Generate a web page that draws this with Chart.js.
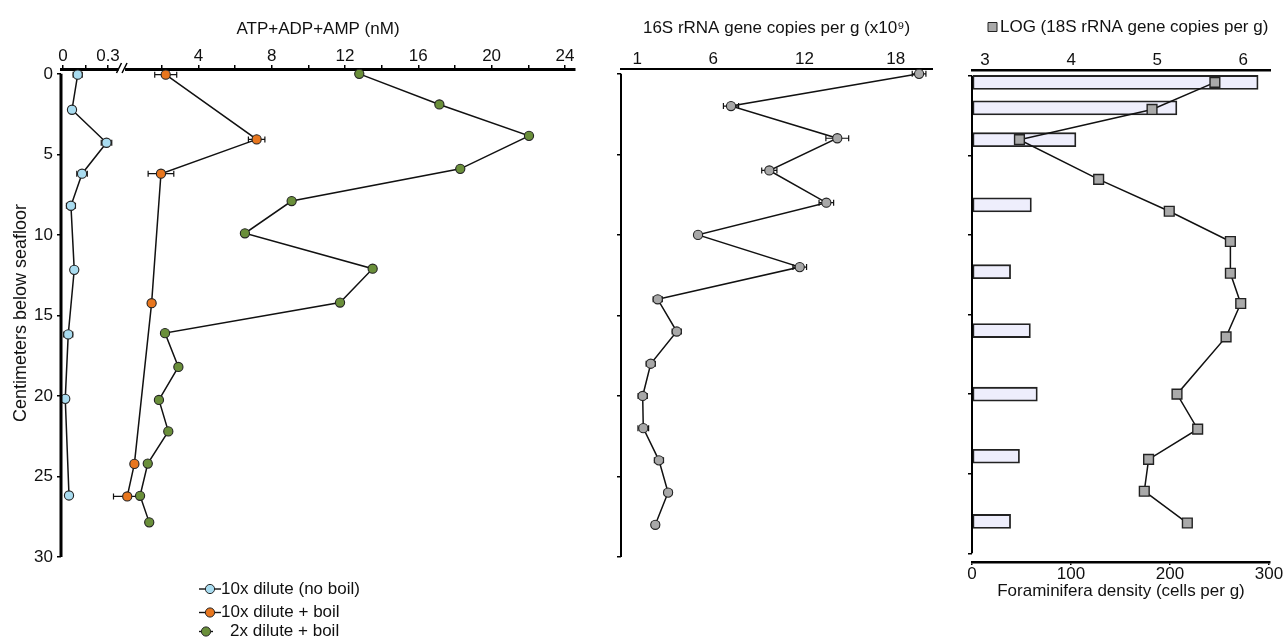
<!DOCTYPE html>
<html>
<head>
<meta charset="utf-8">
<script src="https://cdn.jsdelivr.net/npm/chart.js@4.4.1/dist/chart.umd.min.js"></script>
<style>
  html, body { margin: 0; padding: 0; background: #fff; }
  #wrap { position: relative; width: 1287px; height: 642px; }
  canvas { position: absolute; top: 0; }
</style>
</head>
<body>
<div id="wrap">
  <canvas id="atp" width="600" height="642" style="left:0px"></canvas>
  <canvas id="rrna16" width="350" height="642" style="left:600px"></canvas>
  <canvas id="rrna18" width="337" height="642" style="left:950px"></canvas>
</div>
<script>
// ---- values (depth in cm below seafloor) ----

// ATP+ADP+AMP (nM)
const noBoilDepth = [0.05, 2.23, 4.28, 6.2, 8.19, 12.17, 16.18, 20.18, 26.18];
const noBoilATP   = [0.098, 0.06, 0.29, 0.127, 0.053, 0.075, 0.035, 0.015, 0.04];
const noBoilErr   = [0.03, 0.02, 0.035, 0.035, 0.03, 0.02, 0.03, 0.01, 0.01];

const boil10Depth = [0.05, 4.07, 6.2, 14.24, 24.22, 26.24];
const boil10ATP   = [2.22, 7.18, 1.96, 1.45, 0.51, 0.12];
const boil10Err   = [0.6, 0.45, 0.7, 0.15, 0.1, 0.75];

const boil2Depth  = [0, 1.9, 3.85, 5.9, 7.9, 9.9, 12.1, 14.2, 16.1, 18.2, 20.25, 22.2, 24.2, 26.2, 27.85];
const boil2ATP    = [12.78, 17.15, 22.04, 18.29, 9.09, 6.54, 13.51, 11.73, 2.18, 2.91, 1.85, 2.36, 1.24, 0.82, 1.32];

const atpTicks     = [2, 4, 6, 8, 10, 12, 14, 16, 18, 20, 22, 24];
const atpLabels    = ['', '4', '', '8', '', '12', '', '16', '', '20', '', '24'];
const noBoilTicks  = [0, 0.15, 0.3];
const noBoilLabels = ['0', '', '0.3'];

// 16S rRNA gene copies per g (x10^9)
const rrna16Depth  = [0, 2, 4, 6, 8, 10, 12, 14, 16, 18, 20, 22, 24, 26, 28];
const rrna16Copies = [19.54, 7.17, 14.16, 9.69, 13.44, 5.0, 11.69, 2.35, 3.6, 1.89, 1.36, 1.4, 2.43, 3.03, 2.19];
const rrna16Err    = [0.45, 0.5, 0.75, 0.5, 0.48, 0.2, 0.45, 0.3, 0.3, 0.3, 0.3, 0.35, 0.3, 0.25, 0.25];
const rrna16Ticks  = [1, 6, 12, 18];

// LOG 18S rRNA gene copies per g, and foraminifera density (cells per g)
const log18Depth   = [0.4, 2.1, 4.0, 6.5, 8.5, 10.4, 12.4, 14.3, 16.4, 20.0, 22.2, 24.1, 26.1, 28.1];
const log18Copies  = [5.67, 4.94, 3.40, 4.32, 5.14, 5.85, 5.85, 5.97, 5.80, 5.23, 5.47, 4.90, 4.85, 5.35];
const foramDepth   = [0.4, 2.0, 4.0, 8.1, 12.3, 16.0, 20.0, 23.9, 28.0];
const foramDensity = [289, 207, 105, 60, 39, 59, 66, 48, 39];
const logTicks     = [3, 4, 5, 6];
const densityTicks = [0, 100, 200, 300];

const depthTicks = [0, 5, 10, 15, 20, 25, 30];

// ---- helpers ----
const FONT = "'Liberation Sans', Arial, Helvetica, sans-serif";
Chart.defaults.font.family = FONT;
Chart.defaults.font.size = 17;
Chart.defaults.color = '#111';
Chart.defaults.animation = false;

const pts = (xs, ys) => xs.map((x, i) => ({ x: x, y: ys[i] }));
const setTicks = (vals) => (scale) => { scale.ticks = vals.map(v => ({ value: v })); };

// broken ATP axis: two linear scales sharing one chart area
const ATP_MIN = -3.494, ATP_MAX = 24.55;
const NB_MIN = -0.0133, NB_MAX = 3.413;
const nbToAtp = (v) => ATP_MIN + (v - NB_MIN) / (NB_MAX - NB_MIN) * (ATP_MAX - ATP_MIN);

function depthAxis(min, max, width, labels, title) {
  return {
    type: 'linear', reverse: true, min: min, max: max, offset: false,
    afterBuildTicks: setTicks(depthTicks),
    afterFit: (s) => { s.width = width; },
    border: { display: false },
    grid: { offset: false, drawOnChartArea: false, drawTicks: true, tickLength: 4, color: '#000', lineWidth: 1.5 },
    ticks: { display: labels, padding: 4, font: { size: 17, lineHeight: 1 } },
    title: title ? { display: true, text: title, padding: { top: 10, bottom: 0 }, font: { size: 18 } } : { display: false }
  };
}

// error bars under the points
const errorBars = {
  id: 'errorBars',
  beforeDatasetsDraw(chart) {
    const ctx = chart.ctx;
    chart.data.datasets.forEach((ds, i) => {
      if (!ds.errors) return;
      const meta = chart.getDatasetMeta(i);
      const xs = meta.xScale, ys = meta.yScale;
      ctx.save();
      ctx.strokeStyle = '#111';
      ctx.lineWidth = 1.2;
      ds.data.forEach((p, j) => {
        const e = ds.errors[j];
        if (!e) return;
        const y = ys.getPixelForValue(p.y);
        const x1 = xs.getPixelForValue(p.x - e), x2 = xs.getPixelForValue(p.x + e);
        ctx.beginPath();
        ctx.moveTo(x1, y); ctx.lineTo(x2, y);
        ctx.moveTo(x1, y - 3); ctx.lineTo(x1, y + 3);
        ctx.moveTo(x2, y - 3); ctx.lineTo(x2, y + 3);
        ctx.stroke();
      });
      ctx.restore();
    });
  }
};

// depth axis line only from 0 to 30 cm
const depthLine = {
  id: 'depthLine',
  afterDraw(chart, args, opts) {
    const y = chart.scales.y, ctx = chart.ctx;
    const x = chart.chartArea.left;
    ctx.save();
    ctx.strokeStyle = '#000';
    ctx.lineWidth = opts.width || 2;
    ctx.beginPath();
    ctx.moveTo(x, y.getPixelForValue(0));
    ctx.lineTo(x, y.getPixelForValue(30));
    ctx.stroke();
    ctx.restore();
  }
};

// the // break on the ATP axis
const axisBreak = {
  id: 'axisBreak',
  afterDraw(chart) {
    const ctx = chart.ctx;
    const top = chart.chartArea.top;
    const a = chart.scales.xb.getPixelForValue(0.37);
    const b = chart.scales.x.getPixelForValue(0);
    ctx.save();
    ctx.fillStyle = '#fff';
    ctx.fillRect(a, top - 3, b - a, 6);
    ctx.strokeStyle = '#000';
    ctx.lineWidth = 1.5;
    ctx.beginPath();
    ctx.moveTo(a - 2, top + 4); ctx.lineTo(a + 3, top - 6);
    ctx.moveTo(b - 3, top + 4); ctx.lineTo(b + 2, top - 6);
    ctx.stroke();
    ctx.restore();
  }
};

// small hand-placed keys
const key = {
  id: 'key',
  afterDraw(chart, args, opts) {
    const ctx = chart.ctx;
    ctx.save();
    ctx.font = '17px ' + FONT;
    ctx.textBaseline = 'middle';
    (opts.items || []).forEach((it) => {
      const ds = chart.data.datasets[it.dataset];
      if (it.line) {
        ctx.strokeStyle = '#111';
        ctx.lineWidth = 1.4;
        ctx.beginPath();
        ctx.moveTo(it.x - it.line, it.y); ctx.lineTo(it.x + it.line, it.y);
        ctx.stroke();
      }
      ctx.beginPath();
      if (ds.pointStyle === 'rect') ctx.rect(it.x - 4.5, it.y - 4.5, 9, 9);
      else ctx.arc(it.x, it.y, 4.6, 0, Math.PI * 2);
      ctx.fillStyle = ds.pointBackgroundColor;
      ctx.fill();
      ctx.strokeStyle = '#222';
      ctx.lineWidth = 1;
      ctx.stroke();
      ctx.fillStyle = '#111';
      ctx.fillText(ds.label, it.textX, it.y);
    });
    ctx.restore();
  }
};

function profile(label, data, xAxisID, fill, errors) {
  return {
    type: 'line', label: label, data: data, xAxisID: xAxisID, yAxisID: 'y',
    errors: errors, clip: false,
    borderColor: '#111', borderWidth: 1.5, tension: 0,
    pointRadius: 4.6, pointHoverRadius: 4.6,
    pointBackgroundColor: fill, pointBorderColor: '#222', pointBorderWidth: 1.1
  };
}

// ---- ATP+ADP+AMP ----
const atpAxisTicks = noBoilTicks.map(nbToAtp).concat(atpTicks);
const atpAxisLabels = noBoilLabels.concat(atpLabels);

new Chart(document.getElementById('atp'), {
  type: 'line',
  data: {
    datasets: [
      profile('10x dilute (no boil)', pts(noBoilATP, noBoilDepth), 'xb', '#a9dcf0', noBoilErr),
      profile('2x dilute + boil', pts(boil2ATP, boil2Depth), 'x', '#6a8f3a', null),
      profile('10x dilute + boil', pts(boil10ATP, boil10Depth), 'x', '#e8761e', boil10Err)
    ]
  },
  options: {
    responsive: false, devicePixelRatio: 1, indexAxis: 'y',
    layout: { padding: { left: 0, right: 25, top: 0, bottom: 85 } },
    scales: {
      x: {
        type: 'linear', position: 'top', min: ATP_MIN, max: ATP_MAX,
        afterBuildTicks: setTicks(atpAxisTicks),
        afterFit: (s) => { s.height = 69; },
        border: { display: true, color: '#000', width: 3 },
        grid: { drawOnChartArea: false, drawTicks: true, tickLength: 4, color: '#000', lineWidth: 1.5 },
        ticks: { autoSkip: false, maxRotation: 0, padding: 0, font: { size: 17, lineHeight: 1 },
                 callback: (v, i) => atpAxisLabels[i] },
        title: { display: true, text: 'ATP+ADP+AMP (nM)', padding: { top: 19, bottom: 0 }, font: { size: 17 } }
      },
      xb: { type: 'linear', position: 'top', display: false, min: NB_MIN, max: NB_MAX },
      y: depthAxis(-0.3, 30, 61, true, 'Centimeters below seafloor')
    },
    plugins: {
      legend: { display: false }, tooltip: { enabled: false },
      depthLine: { width: 3 },
      key: { items: [
        { dataset: 0, x: 210, y: 589, textX: 221, line: 11 },
        { dataset: 2, x: 210, y: 612.5, textX: 221, line: 11 },
        { dataset: 1, x: 206, y: 631.5, textX: 230, line: 7 }
      ] }
    }
  },
  plugins: [errorBars, depthLine, axisBreak, key]
});

// ---- 16S rRNA ----
new Chart(document.getElementById('rrna16'), {
  type: 'line',
  data: {
    datasets: [
      profile('16S rRNA gene copies', pts(rrna16Copies, rrna16Depth), 'x', '#a8a8a8', rrna16Err)
    ]
  },
  options: {
    responsive: false, devicePixelRatio: 1, indexAxis: 'y',
    layout: { padding: { left: 0, right: 18, top: 0, bottom: 85 } },
    scales: {
      x: {
        type: 'linear', position: 'top', min: -0.066, max: 20.39,
        afterBuildTicks: setTicks(rrna16Ticks),
        afterFit: (s) => { s.height = 69; },
        border: { display: true, color: '#000', width: 2 },
        grid: { display: false, drawTicks: false },
        ticks: { autoSkip: false, maxRotation: 0, padding: 1, font: { size: 17, lineHeight: 1 } },
        title: { display: true, text: '16S rRNA gene copies per g (x10\u2079)', padding: { top: 18, bottom: 0 }, font: { size: 17 } }
      },
      y: depthAxis(-0.3, 30, 21, false, null)
    },
    plugins: { legend: { display: false }, tooltip: { enabled: false }, depthLine: { width: 2 } }
  },
  plugins: [errorBars, depthLine]
});

// ---- 18S rRNA + foraminifera ----
new Chart(document.getElementById('rrna18'), {
  type: 'line',
  data: {
    datasets: [
      {
        type: 'line', label: 'LOG (18S rRNA gene copies per g)', order: 1,
        data: pts(log18Copies, log18Depth), xAxisID: 'xl', yAxisID: 'y', clip: false,
        borderColor: '#111', borderWidth: 1.5, tension: 0,
        pointStyle: 'rect', pointRadius: 6.9, pointHoverRadius: 6.9,
        pointBackgroundColor: '#aaaaaa', pointBorderColor: '#222', pointBorderWidth: 1.4
      },
      {
        type: 'bar', label: 'Foraminifera density', order: 2,
        data: pts(foramDensity, foramDepth), xAxisID: 'xd', yAxisID: 'y',
        backgroundColor: '#eeeefc', borderColor: '#222', borderWidth: 1.8,
        borderSkipped: false, barThickness: 14
      }
    ]
  },
  options: {
    responsive: false, devicePixelRatio: 1, indexAxis: 'y',
    layout: { padding: { left: 0, right: 17, top: 0, bottom: 0 } },
    scales: {
      xl: {
        type: 'linear', position: 'top', min: 2.849, max: 6.31,
        afterBuildTicks: setTicks(logTicks),
        afterFit: (s) => { s.height = 70; },
        border: { display: true, color: '#000', width: 2.5 },
        grid: { display: false, drawTicks: false },
        ticks: { autoSkip: false, maxRotation: 0, padding: 1.5, font: { size: 17, lineHeight: 1 } }
      },
      xd: {
        type: 'linear', position: 'bottom', min: 0, max: 301,
        afterBuildTicks: setTicks(densityTicks),
        afterFit: (s) => { s.height = 80; },
        border: { display: true, color: '#000', width: 2.5 },
        grid: { drawOnChartArea: false, drawTicks: true, tickLength: 3, color: '#000', lineWidth: 1.5 },
        ticks: { autoSkip: false, maxRotation: 0, padding: 0.5, font: { size: 17, lineHeight: 1 } },
        title: { display: true, text: 'Foraminifera density (cells per g)', padding: { top: 0, bottom: 40 }, font: { size: 17 } }
      },
      y: depthAxis(-0.38, 30.55, 22, false, null)
    },
    plugins: {
      legend: { display: false }, tooltip: { enabled: false },
      depthLine: { width: 2 },
      key: { items: [ { dataset: 0, x: 42.5, y: 27, textX: 50, line: 0 } ] }
    }
  },
  plugins: [depthLine, key]
});
</script>
</body>
</html>
